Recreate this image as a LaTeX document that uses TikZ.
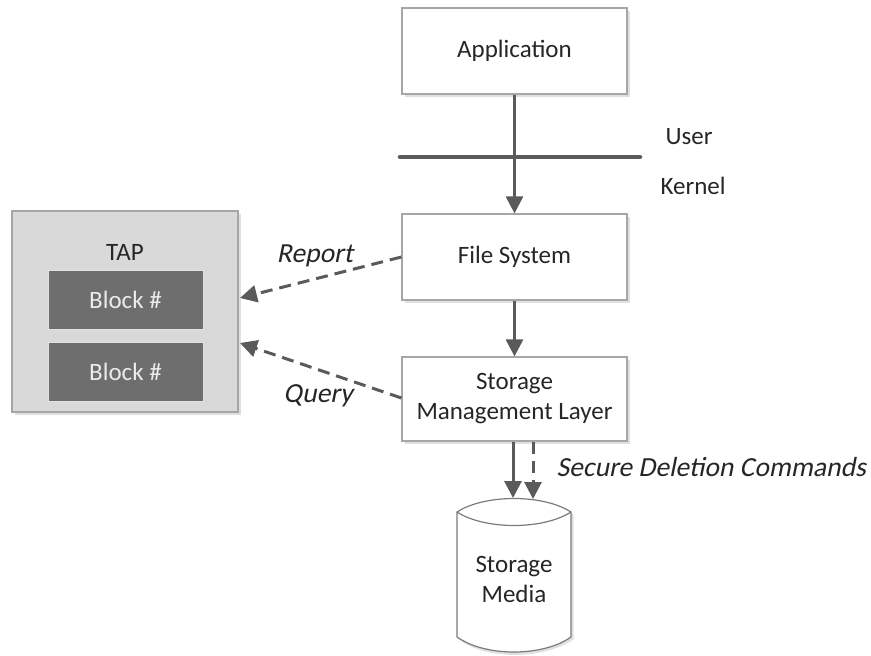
\documentclass[tikz,border=0pt]{standalone}
\usepackage{fontspec}
\setmainfont{Carlito}
\newfontfamily\slantfont{Carlito}[FakeSlant=0.2]
\usetikzlibrary{arrows.meta,shadows,calc}
\definecolor{linegray}{HTML}{5A5A5A}
\definecolor{boxborder}{HTML}{A6A6A6}
\definecolor{tapfill}{HTML}{D9D9D9}
\definecolor{blockfill}{HTML}{6E6E6E}
\definecolor{textgray}{HTML}{262626}
\tikzset{
  lbl/.style={font=\fontsize{25}{30}\selectfont, text=textgray},
  ilbl/.style={font=\fontsize{27.6}{33}\selectfont\slantfont, text=textgray},
  layerbox/.style={draw=boxborder, line width=1.2pt, fill=white, minimum width=225pt,
    align=center, lbl, drop shadow={shadow xshift=2.5pt, shadow yshift=-2.5pt, fill=black!12, opacity=1}},
  blockbox/.style={draw=tapfill!80!white, line width=1pt, fill=blockfill, minimum width=155pt,
    minimum height=59pt, font=\fontsize{25}{30}\selectfont, text=white!92!black},
  flow/.style={draw=linegray, line width=3pt, -{Triangle[width=17pt,length=17pt]}},
  dflow/.style={flow, dash pattern=on 12pt off 7pt},
}
\begin{document}
\begin{tikzpicture}[x=1pt,y=-1pt]
  \useasboundingbox (0,0) rectangle (871,656);

  % layer boxes
  \node[layerbox, minimum height=86pt] (app) at (514.5,51) {Application};
  \node[layerbox, minimum height=86pt] (fs) at (514.5,257) {File System};
  \node[layerbox, minimum height=84pt] (sml) at (514.5,399) {Storage\\Management Layer};

  % user / kernel boundary
  \coordinate (bl) at (400,157);
  \coordinate (br) at (640,157);
  \draw[linegray, line width=4.5pt, line cap=round] (bl) -- (br);
  \node[lbl, anchor=west] (user) at (662,137) {User};
  \node[lbl, anchor=west] (kernel) at (657,186) {Kernel};

  % TAP container with block entries
  \node[draw=boxborder, line width=1.2pt, fill=tapfill, minimum width=226pt, minimum height=201pt,
    drop shadow={shadow xshift=2.5pt, shadow yshift=-2.5pt, fill=black!12, opacity=1}] (tap) at (125,311.5) {};
  \node[lbl] (taplbl) at (125,252) {TAP};
  \node[blockbox] (blk1) at (125.5,299.5) {Block \#};
  \node[blockbox] (blk2) at (125.5,371.5) {Block \#};

  % storage media cylinder
  \coordinate (cl) at (457,512);
  \coordinate (cr) at (571,512);
  \coordinate (cbl) at (457,637);
  \coordinate (cbr) at (571,637);
  \fill[black!12] ($(cl)+(2.5,2.5)$) .. controls (485,494) and (543,494) .. ($(cr)+(2.5,2.5)$)
    -- ($(cbr)+(2.5,2.5)$) .. controls (543,660) and (485,660) .. ($(cbl)+(2.5,2.5)$) -- cycle;
  \filldraw[draw=linegray!80, fill=white, line width=1.2pt]
    (cl) .. controls (485,494) and (543,494) .. (cr)
    -- (cbr) .. controls (543,657) and (485,657) .. (cbl) -- cycle;
  \draw[linegray!80, line width=1.2pt] (cl) .. controls (485,530) and (543,530) .. (cr);
  \node[lbl, align=center] (media) at (514,579) {Storage\\Media};
  \coordinate (mtop) at (513,498);
  \coordinate (mtopd) at (533,499);

  % main data path
  \draw[flow] (app.south) -- (fs.north);
  \draw[flow] (fs.south) -- (sml.north);
  \draw[flow] (sml.south -| mtop) -- (mtop);
  \draw[dflow] (sml.south -| mtopd) -- (mtopd);
  \node[ilbl, anchor=west] (sdc) at (553,467) {Secure Deletion Commands};

  % report / query to TAP
  \coordinate (rp) at (240,298);
  \coordinate (qp) at (240,343);
  \draw[dflow] (fs.west) -- (rp);
  \draw[dflow] (fs.west |- 0,398) -- (qp);
  \node[ilbl] (report) at (315,256) {Report};
  \node[ilbl] (query) at (318,396) {Query};
\end{tikzpicture}
\end{document}
